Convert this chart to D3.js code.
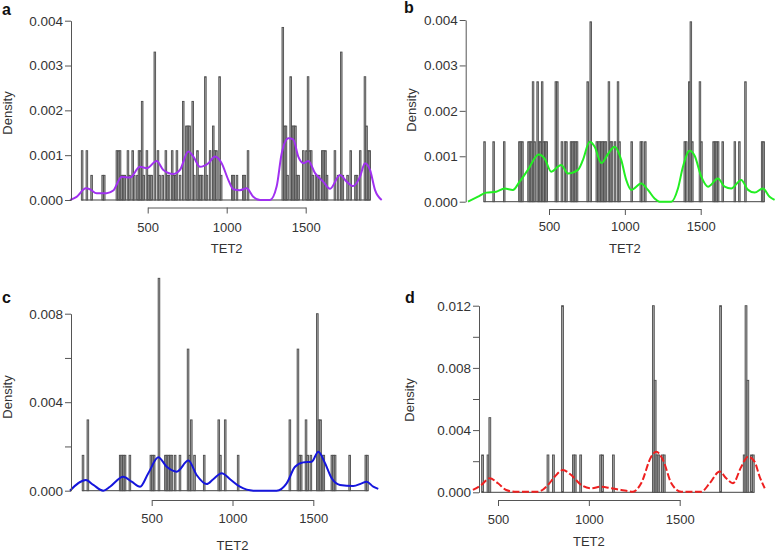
<!DOCTYPE html>
<html>
<head>
<meta charset="utf-8">
<script src="https://cdn.jsdelivr.net/npm/d3@7"></script>
<style>
  html, body { margin: 0; padding: 0; background: #fff; }
  svg { display: block; font-family: "Liberation Sans", Arial, sans-serif; }
</style>
</head>
<body>
<svg id="chart" width="776" height="554"></svg>
<script>
// ---------------- DATA ----------------
const xTickLabels = ["500", "1000", "1500"];
const xTickValues = [500, 1000, 1500];
const binWidth = 10;

// Panel a (purple)
const binsA = [80,110,140,210,220,300,310,320,330,340,350,370,380,400,410,430,440,450,460,470,490,500,510,520,540,560,570,590,610,620,630,650,660,670,680,700,720,740,750,760,780,790,810,820,830,840,860,870,890,910,920,930,950,960,1030,1040,1060,1100,1110,1130,1350,1360,1370,1380,1400,1410,1420,1430,1440,1450,1480,1500,1510,1520,1530,1540,1560,1570,1580,1600,1610,1620,1630,1680,1700,1720,1730,1760,1780,1810,1820,1840,1870,1880,1890,1900];
const densA = [0.0011,0.0011,0.00055,0.00055,0.00055,0.0011,0.0011,0.0011,0.00055,0.00055,0.00055,0.0011,0.00055,0.0011,0.00055,0.00055,0.0011,0.0011,0.0022,0.00055,0.0011,0.00055,0.00055,0.00055,0.0033,0.0011,0.00055,0.00055,0.0011,0.00055,0.00055,0.0011,0.00055,0.00055,0.0011,0.00055,0.0022,0.00165,0.00165,0.00165,0.0022,0.00055,0.0011,0.00055,0.00055,0.00055,0.00275,0.00055,0.0011,0.00165,0.0011,0.0011,0.00275,0.00055,0.00055,0.00055,0.00055,0.00055,0.00055,0.0011,0.00385,0.00165,0.00165,0.00055,0.00275,0.00165,0.00165,0.00165,0.00055,0.00055,0.0011,0.0011,0.00275,0.0011,0.0011,0.00055,0.00055,0.00055,0.00055,0.0011,0.0011,0.0011,0.00055,0.0011,0.00055,0.0033,0.00055,0.00055,0.0011,0.00055,0.00055,0.0011,0.00275,0.00165,0.0011,0.0011];
const curveAx = [8,50,109,134,177,240,282,335,388,451,494,557,599,662,704,757,789,831,884,926,968,1010,1042,1084,1126,1168,1211,1274,1316,1348,1390,1421,1453,1485,1517,1559,1611,1654,1717,1759,1801,1844,1875,1907,1939,1981];
const curveAy = [0,0.00007,0.00026,0.00024,0.00015,0.00015,0.00021,0.00052,0.0005,0.00074,0.00071,0.00087,0.00067,0.00058,0.00067,0.00108,0.00097,0.00074,0.00082,0.00097,0.00082,0.00045,0.00024,0.00022,0.00026,0.00007,0,0,0.0003,0.00104,0.00138,0.00135,0.00097,0.00082,0.00087,0.0006,0.00041,0.00025,0.00056,0.00041,0.00031,0.00052,0.00082,0.00067,0.00022,0];
const yTicksA = [0, 0.001, 0.002, 0.003, 0.004];
const yLabelsA = ["0.000", "0.001", "0.002", "0.003", "0.004"];

// Panel b (green)
const binsB = [70,130,200,300,310,320,360,370,380,390,400,420,430,440,450,460,470,480,540,550,580,600,610,640,650,660,670,680,750,770,810,820,830,840,850,860,870,890,900,910,930,950,960,1040,1100,1110,1130,1390,1400,1420,1430,1440,1490,1500,1580,1590,1600,1610,1640,1720,1750,1790,1900,1910];
const densB = [0.00132,0.00132,0.00132,0.00132,0.00132,0.00132,0.00132,0.00132,0.00132,0.00264,0.00132,0.00264,0.00132,0.00132,0.00264,0.00132,0.00132,0.00132,0.00264,0.00264,0.00132,0.00132,0.00132,0.00132,0.00132,0.00132,0.00132,0.00132,0.00264,0.00396,0.00132,0.00132,0.00132,0.00132,0.00132,0.00132,0.00132,0.00264,0.00132,0.00132,0.00132,0.00264,0.00132,0.00132,0.00132,0.00132,0.00132,0.00132,0.00132,0.00264,0.00396,0.00132,0.00264,0.00132,0.00132,0.00132,0.00132,0.00132,0.00132,0.00132,0.00132,0.00264,0.00132,0.00132];
const curveBx = [-34,32,87,152,207,262,306,361,432,471,515,559,581,625,691,724,768,801,845,889,933,976,1009,1042,1108,1152,1196,1229,1306,1350,1383,1427,1460,1504,1548,1614,1658,1701,1767,1812,1856,1910,1954,1987];
const curveBy = [0,0.00011,0.0002,0.00022,0.00029,0.00026,0.00044,0.0007,0.00104,0.00095,0.00066,0.00077,0.00081,0.00062,0.0007,0.00092,0.00132,0.00121,0.00085,0.00105,0.00121,0.00092,0.00048,0.00026,0.0004,0.00026,0.00007,0,0,0.00029,0.00077,0.00112,0.00101,0.00055,0.00033,0.00051,0.00033,0.00029,0.00048,0.00026,0.0002,0.00029,0.00011,0.00004];
const yTicksB = [0, 0.001, 0.002, 0.003, 0.004];
const yLabelsB = ["0.000", "0.001", "0.002", "0.003", "0.004"];

// Panel c (blue)
const binsC = [70,100,300,310,320,330,360,490,500,510,540,580,590,600,610,620,640,670,720,730,740,760,820,910,920,950,1030,1350,1400,1410,1420,1450,1460,1480,1520,1530,1540,1550,1560,1610,1620,1630,1720,1820,1830];
const densC = [0.0016,0.0032,0.0016,0.0016,0.0016,0.0016,0.0016,0.0016,0.0016,0.0016,0.0096,0.0016,0.0016,0.0016,0.0016,0.0016,0.0016,0.0016,0.0064,0.0016,0.0032,0.0016,0.0016,0.0032,0.0016,0.0032,0.0016,0.0032,0.0064,0.0016,0.0016,0.0032,0.0016,0.0016,0.008,0.0032,0.0032,0.0016,0.0016,0.0016,0.0016,0.0016,0.0016,0.0016,0.0016];
const curveCx = [-6,93,139,200,242,324,376,428,479,541,593,655,727,778,840,881,933,985,1046,1129,1273,1335,1387,1438,1490,1531,1572,1614,1665,1747,1799,1830,1871,1902];
const curveCy = [0,0.00048,0.00026,0,0.00018,0.00063,0.00041,0.00018,0.00079,0.00151,0.00108,0.00086,0.00136,0.00071,0.0003,0.00052,0.00079,0.00052,0.00018,0,0,0.00033,0.00108,0.00128,0.00131,0.00176,0.00125,0.00056,0.00026,0.00021,0.00033,0.00041,0.00018,0.00008];
const yTicksC = [0, 0.002, 0.004, 0.006, 0.008];
const yLabelsC = ["0.000", "", "0.004", "", "0.008"];

// Panel d (red, dashed)
const binsD = [410,440,450,770,800,850,910,920,950,1060,1070,1130,1350,1360,1370,1380,1400,1410,1720,1850,1860,1870,1890,1900];
const densD = [0.0024,0.0024,0.0048,0.0024,0.0024,0.012,0.0024,0.0024,0.0024,0.0024,0.0024,0.0024,0.012,0.0072,0.0024,0.0024,0.0024,0.0024,0.012,0.0024,0.012,0.0072,0.0024,0.0024];
const curveDx = [362,408,454,500,545,592,720,775,812,857,903,958,1013,1068,1123,1178,1243,1288,1343,1371,1408,1454,1508,1619,1665,1720,1756,1793,1839,1876,1912,1940,1968];
const curveDy = [0.00015,0.00047,0.0009,0.00058,0.00015,0.00004,0.00004,0.00047,0.001,0.00143,0.00111,0.00047,0.00026,0.00036,0.00026,0.00015,0.00004,0.00058,0.00229,0.00261,0.00208,0.00058,0.00004,0.00004,0.00058,0.00133,0.0009,0.00058,0.00165,0.00229,0.00197,0.001,0.00026];
const yTicksD = [0, 0.002, 0.004, 0.006, 0.008, 0.010, 0.012];
const yLabelsD = ["0.000", "", "0.004", "", "0.008", "", "0.012"];

// ---------------- LAYOUT ----------------
const panels = [
  { letter: "a", bins: binsA, dens: densA, cx: curveAx, cy: curveAy, yTicks: yTicksA, yLabels: yLabelsA,
    color: "#a030f0", dash: null,
    xr: [147.7, 305.7], yr: [200, 20.7], yAxisX: 71, xAxisY: 207.5, xLabY: 223, titleY: 253, dens_x: 12, dens_y: 113, letterX: 2, letterY: 15 },
  { letter: "b", bins: binsB, dens: densB, cx: curveBx, cy: curveBy, yTicks: yTicksB, yLabels: yLabelsB,
    color: "#22ee22", dash: null,
    xr: [549, 700.7], yr: [201.7, 20], yAxisX: 465.7, xAxisY: 209, xLabY: 222, titleY: 253, dens_x: 416, dens_y: 110, letterX: 404, letterY: 13 },
  { letter: "c", bins: binsC, dens: densC, cx: curveCx, cy: curveCy, yTicks: yTicksC, yLabels: yLabelsC,
    color: "#1515dd", dash: null,
    xr: [151.7, 313.3], yr: [490.7, 313.7], yAxisX: 71, xAxisY: 500, xLabY: 514, titleY: 550, dens_x: 12, dens_y: 397, letterX: 2, letterY: 303 },
  { letter: "d", bins: binsD, dens: densD, cx: curveDx, cy: curveDy, yTicks: yTicksD, yLabels: yLabelsD,
    color: "#ee2020", dash: "7,2.5",
    xr: [498, 679.7], yr: [492.3, 305.7], yAxisX: 479, xAxisY: 500, xLabY: 515, titleY: 546, dens_x: 414, dens_y: 400, letterX: 405, letterY: 303 }
];

const svg = d3.select("#chart");
const textColor = "#333";
const axisColor = "#555";

panels.forEach(p => {
  const g = svg.append("g");
  const x = d3.scaleLinear().domain([500, 1500]).range(p.xr);
  const y = d3.scaleLinear().domain([0, p.yTicks[p.yTicks.length - 1]]).range(p.yr);

  // baseline across the histogram range
  const first = p.bins[0], last = p.bins[p.bins.length - 1] + binWidth;
  g.append("line")
    .attr("x1", x(first)).attr("x2", x(last))
    .attr("y1", y(0)).attr("y2", y(0))
    .attr("stroke", "#444").attr("stroke-width", 1);

  // bars
  g.selectAll("rect.bar").data(p.bins.map((b, i) => ({ b, d: p.dens[i] })))
    .enter().append("rect")
    .attr("class", "bar")
    .attr("x", d => x(d.b))
    .attr("width", d => x(d.b + binWidth) - x(d.b))
    .attr("y", d => y(d.d))
    .attr("height", d => y(0) - y(d.d))
    .attr("fill", "#a8a8a8")
    .attr("stroke", "#4e4e4e")
    .attr("stroke-width", 0.9);

  // density curve
  const pts = p.cx.map((v, i) => [v, p.cy[i]]);
  const line = d3.line().x(d => x(d[0])).y(d => y(d[1])).curve(d3.curveMonotoneX);
  g.append("path").attr("d", line(pts))
    .attr("fill", "none").attr("stroke", p.color).attr("stroke-width", 2)
    .attr("stroke-dasharray", p.dash);

  // y axis
  const yAxis = d3.axisLeft(y).tickValues(p.yTicks)
    .tickFormat((d, i) => p.yLabels[i]).tickSize(6).tickSizeOuter(0).tickPadding(2);
  const ya = g.append("g").attr("transform", `translate(${p.yAxisX},0)`).call(yAxis);
  ya.select(".domain").attr("stroke", axisColor);
  ya.selectAll(".tick line").attr("stroke", axisColor);
  ya.selectAll("text").attr("fill", textColor).style("font-size", "13.5px");

  // x axis
  const xAxis = d3.axisBottom(x).tickValues(xTickValues)
    .tickFormat((d, i) => xTickLabels[i]).tickSize(6).tickSizeOuter(0);
  const xa = g.append("g").attr("transform", `translate(0,${p.xAxisY})`).call(xAxis);
  xa.select(".domain").attr("stroke", axisColor);
  xa.selectAll(".tick line").attr("stroke", axisColor);
  xa.selectAll("text").attr("fill", textColor).style("font-size", "13px")
    .attr("y", p.xLabY - p.xAxisY).attr("dy", "0.71em");

  // axis titles
  g.append("text").attr("x", (p.xr[0] + p.xr[1]) / 2).attr("y", p.titleY)
    .attr("text-anchor", "middle").attr("fill", textColor).style("font-size", "13px").text("TET2");
  g.append("text").attr("transform", `translate(${p.dens_x},${p.dens_y}) rotate(-90)`)
    .attr("text-anchor", "middle").attr("fill", textColor).style("font-size", "13px").text("Density");

  // panel letter
  g.append("text").attr("x", p.letterX).attr("y", p.letterY)
    .attr("fill", "#111").style("font-size", "16px").style("font-weight", "bold").text(p.letter);
});
</script>
</body>
</html>
